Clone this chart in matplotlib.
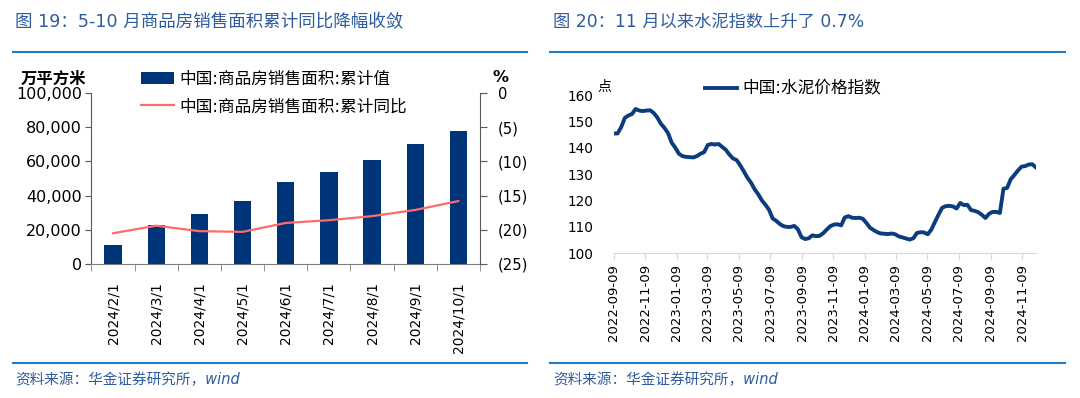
import numpy as np
import pandas as pd
import matplotlib
matplotlib.use('Agg')
from matplotlib import pyplot as plt
import matplotlib.dates as mdates
from matplotlib.lines import Line2D

plt.rcParams['font.family'] = ['DejaVu Sans', 'Noto Sans CJK SC']

# left chart: commercial housing sales area (cumulative)
months = ['2024/2/1', '2024/3/1', '2024/4/1', '2024/5/1', '2024/6/1',
          '2024/7/1', '2024/8/1', '2024/9/1', '2024/10/1']
area_cum = [11369, 22668, 29252, 36642, 47916, 54007, 60668, 70284, 77930]
area_yoy = [-20.5, -19.4, -20.2, -20.3, -19.0, -18.6, -18.0, -17.1, -15.8]

# right chart: cement price index, weekly from 2022-09-09
cement_start = '2022-09-09'
cement_index = [
    145.4, 145.4, 147.8, 151.3, 152.2, 152.8, 154.7, 154.1, 153.9, 154.1,
    154.2, 153.2, 151.5, 149.1, 147.5, 145.5, 141.9, 140.0, 137.7, 136.8,
    136.5, 136.4, 136.3, 136.8, 137.7, 138.3, 141.0, 141.4, 141.2, 141.4,
    140.3, 139.2, 137.4, 135.9, 135.3, 133.3, 131.0, 128.6, 126.7, 124.2,
    122.3, 120.0, 118.3, 116.4, 113.1, 112.2, 111.0, 110.2, 109.9, 109.9,
    110.3, 109.0, 106.0, 105.3, 105.6, 106.7, 106.4, 106.5, 107.5, 108.9,
    110.2, 110.8, 110.9, 110.5, 113.5, 114.0, 113.4, 113.3, 113.4, 113.0,
    111.4, 109.6, 108.7, 107.9, 107.4, 107.3, 107.2, 107.4, 107.1, 106.3,
    105.9, 105.5, 105.1, 105.6, 107.6, 107.9, 107.8, 107.1, 108.9, 111.8,
    114.6, 117.2, 117.8, 117.9, 117.7, 116.9, 119.0, 118.2, 118.3, 116.3,
    116.0, 115.5, 114.5, 113.3, 114.9, 115.6, 115.6, 115.2, 124.4, 124.7,
    128.0, 129.6, 131.3, 132.8, 133.0, 133.6, 133.7, 132.5,
]
cement_dates = pd.date_range(cement_start, periods=len(cement_index), freq='7D')

title_color = '#2E5C9E'
rule_color = '#1E7BC8'
bar_color = '#003478'
yoy_color = '#FF6B6B'
cement_color = '#0B3C7D'

fig = plt.figure(figsize=(10.8, 3.98), dpi=100)
fig.patch.set_facecolor('white')

# headers, rules and sources
fig.text(0.014, 0.945, '图 19：5-10 月商品房销售面积累计同比降幅收敛',
         fontsize=12.6, color=title_color, va='center', ha='left')
fig.text(0.512, 0.945, '图 20：11 月以来水泥指数上升了 0.7%',
         fontsize=12.4, color=title_color, va='center', ha='left')
for x0, x1 in [(0.012, 0.488), (0.509, 0.986)]:
    fig.add_artist(Line2D([x0, x1], [0.869, 0.869], color=rule_color, lw=1.5))
    fig.add_artist(Line2D([x0, x1], [0.089, 0.089], color=rule_color, lw=1.5))
fig.text(0.014, 0.045, '资料来源：华金证券研究所，wind', fontsize=10.5,
         color=title_color, style='italic', va='center', ha='left')
fig.text(0.512, 0.045, '资料来源：华金证券研究所，wind', fontsize=10.5,
         color=title_color, style='italic', va='center', ha='left')

# ---- left chart ----
ax = fig.add_axes([0.0847, 0.3367, 0.3597, 0.4296])
x = np.arange(len(months))
bars = ax.bar(x, area_cum, width=0.4, color=bar_color,
              label='中国:商品房销售面积:累计值', zorder=2)
ax.set_xlim(-0.5, len(months) - 0.5)
ax.set_ylim(0, 100000)
ax.set_yticks(range(0, 100001, 20000))
ax.set_yticklabels([f'{v:,}' for v in range(0, 100001, 20000)], fontsize=11.5)
ax.set_xticks(x)
ax.set_xticklabels(months, rotation=90, fontsize=10)
ax.set_xticks(np.arange(-0.5, len(months), 1.0), minor=True)
ax.tick_params(axis='x', which='major', length=0, pad=13)
ax.tick_params(axis='x', which='minor', length=5, color='#7F7F7F', direction='out')
ax.tick_params(axis='y', length=4, color='#595959', pad=3)
for s in ['top', 'right']:
    ax.spines[s].set_visible(False)
ax.spines['left'].set_color('#595959')
ax.spines['bottom'].set_color('#7F7F7F')

ax2 = ax.twinx()
line, = ax2.plot(x, area_yoy, color=yoy_color, lw=1.6,
                 label='中国:商品房销售面积:累计同比', zorder=3)
ax2.set_ylim(-25, 0)
ax2.set_yticks(range(-25, 1, 5))
ax2.set_yticklabels(['(25)', '(20)', '(15)', '(10)', '(5)', '0'], fontsize=10.6)
ax2.tick_params(axis='y', length=5, color='#595959', pad=8)
for s in ['top', 'left', 'bottom']:
    ax2.spines[s].set_visible(False)
ax2.spines['right'].set_color('#595959')

fig.text(0.019, 0.802, '万平方米', fontsize=11.8, fontweight='bold', va='center')
fig.text(0.463, 0.805, '%', fontsize=11.5, fontweight='bold', va='center', ha='center')
fig.legend(handles=[bars, line], loc='upper left', bbox_to_anchor=(0.1306, 0.824),
           frameon=False, fontsize=12, handlelength=1.95, handletextpad=0.35,
           labelspacing=0.55, borderpad=0, borderaxespad=0)

# ---- right chart ----
bx = fig.add_axes([0.5685, 0.3643, 0.3907, 0.397])
bx.plot(cement_dates, cement_index, color=cement_color, lw=2.8,
        label='中国:水泥价格指数', solid_joinstyle='round')
bx.set_xlim(cement_dates[0], cement_dates[-1])
bx.set_ylim(100, 160)
bx.set_yticks(range(100, 161, 10))
bx.tick_params(axis='y', length=0, labelsize=9.8, pad=15)
bx.xaxis.set_major_locator(mdates.MonthLocator(bymonth=[1, 3, 5, 7, 9, 11], bymonthday=9))
bx.xaxis.set_major_formatter(mdates.DateFormatter('%Y-%m-%d'))
bx.tick_params(axis='x', length=5, color='#D9D9D9', labelsize=9.5, labelrotation=90, pad=3)
for s in ['top', 'right', 'left']:
    bx.spines[s].set_visible(False)
bx.spines['bottom'].set_color('#D9D9D9')
fig.text(0.553, 0.782, '点', fontsize=10, va='center')
fig.legend(handles=bx.get_lines(), loc='upper left', bbox_to_anchor=(0.653, 0.80),
           frameon=False, fontsize=12, handlelength=1.9, handletextpad=0.3,
           borderpad=0, borderaxespad=0)

fig.savefig('out.png', dpi=100)
